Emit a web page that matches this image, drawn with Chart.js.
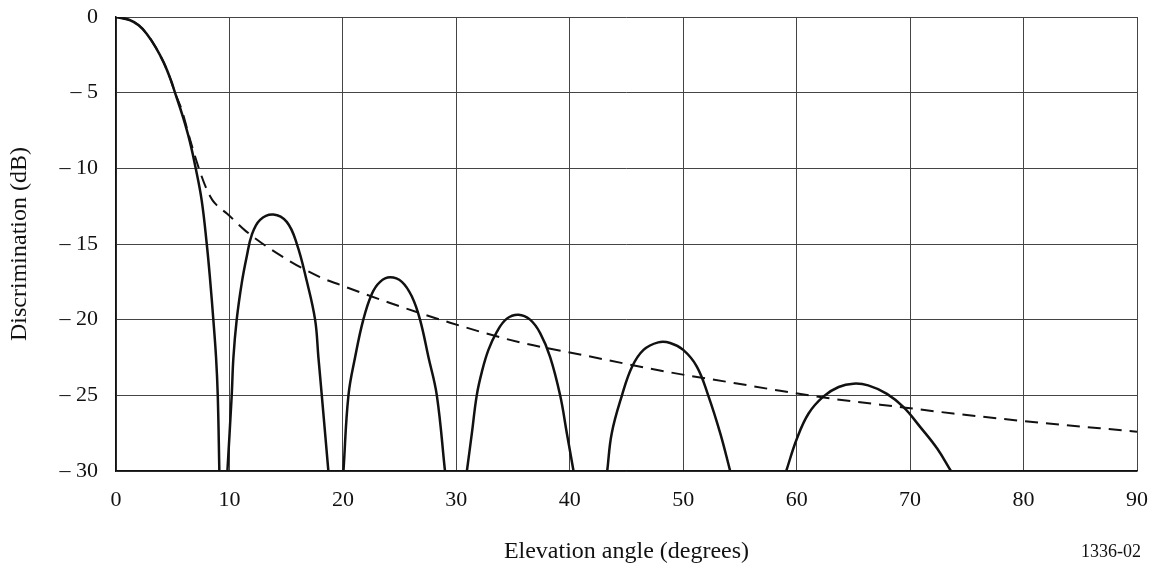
<!DOCTYPE html>
<html>
<head>
<meta charset="utf-8">
<script src="https://cdn.jsdelivr.net/npm/chart.js@4.4.1/dist/chart.umd.min.js"></script>
<style>
    html, body { margin: 0; padding: 0; background: #fff; }
    #wrap { width: 1156px; height: 568px; }
</style>
</head>
<body>
<div id="wrap"><canvas id="discChart"></canvas></div>
<script>
// Elevation angle (degrees) / discrimination (dB)
const mainLobeAngle = [0, 1.2, 2.0, 2.7, 3.5, 4.2, 4.8, 5.2, 5.9, 6.5, 7.0, 7.55, 8.0, 8.3, 8.58, 8.82, 8.97, 9.11];
const mainLobeDb    = [0, -0.2, -0.55, -1.1, -2.0, -3.0, -4.1, -5.0, -6.6, -8.2, -9.9, -12.1, -15, -17.4, -20, -22.5, -25, -30];

const lobe1Angle = [9.82, 10.2, 10.35, 10.64, 11.08, 11.52, 11.97, 12.7, 13.87, 15.05, 15.93, 16.8, 17.55, 17.84, 18.14, 18.72];
const lobe1Db    = [-30, -25, -22.5, -20, -17.6, -15.85, -14.4, -13.4, -13.05, -13.54, -14.97, -17.4, -20, -22.47, -25, -30];

const lobe2Angle = [20.05, 20.49, 21.08, 21.8, 22.55, 23.28, 24.16, 25.2, 26.1, 26.8, 27.54, 28.28, 29.0];
const lobe2Db    = [-30, -25, -22.47, -20.0, -18.3, -17.5, -17.2, -17.5, -18.5, -20.0, -22.47, -25, -30];

const lobe3Angle = [30.93, 31.37, 31.8, 32.25, 32.83, 33.57, 34.45, 35.48, 36.5, 37.4, 38.27, 39.15, 39.74, 40.33];
const lobe3Db    = [-30, -27.5, -25, -23.45, -22.0, -20.8, -19.93, -19.67, -20.0, -20.9, -22.47, -25, -27.5, -30];

const lobe4Angle = [43.3, 43.7, 44.6, 45.5, 46.5, 47.8, 48.85, 50.0, 51.2, 52.2, 53.26, 54.14];
const lobe4Db    = [-30, -27.5, -25, -23.1, -22.0, -21.5, -21.54, -22.0, -23.1, -25, -27.5, -30];

const lobe5Angle = [59.08, 60.0, 61.05, 62.37, 63.7, 65.0, 66.3, 67.96, 69.4, 70.9, 72.37, 73.6];
const lobe5Db    = [-30, -27.9, -26.2, -25.07, -24.45, -24.23, -24.34, -24.9, -25.77, -27.1, -28.5, -30];

const envelopeAngle = [0, 1.2, 2.0, 2.7, 3.5, 4.2, 4.8, 5.2, 5.8, 6.53, 7.26, 8.0, 8.5, 8.9, 9.8, 11.37, 14.46, 18.0, 19.75, 24.16, 29.45, 35.6, 40.9, 48.6, 54.6, 58.55, 62.4, 69.4, 73.8, 80, 90];
const envelopeDb    = [0, -0.2, -0.55, -1.1, -2.0, -3.0, -4.1, -5.0, -6.15, -8.1, -9.9, -11.4, -12.1, -12.45, -13.0, -14.1, -15.74, -17.2, -17.7, -18.9, -20.2, -21.5, -22.3, -23.45, -24.2, -24.7, -25.15, -25.8, -26.2, -26.7, -27.4];

const serif = "'Liberation Serif', 'Times New Roman', serif";

function toPoints(xs, ys) {
    return xs.map((x, i) => ({ x: x, y: ys[i] }));
}

function solid(xs, ys) {
    return {
        data: toPoints(xs, ys),
        borderColor: '#111',
        borderWidth: 2.5,
        pointRadius: 0,
        tension: 0.4,
        fill: false
    };
}

// figure number at bottom right
const figureNote = {
    id: 'figureNote',
    afterDraw(chart) {
        const ctx = chart.ctx;
        ctx.save();
        ctx.font = '18px ' + serif;
        ctx.fillStyle = '#111';
        ctx.textAlign = 'right';
        ctx.textBaseline = 'alphabetic';
        ctx.fillText('1336-02', 1141, 557);
        ctx.restore();
    }
};

document.addEventListener('DOMContentLoaded', function() {
    const ctx = document.getElementById('discChart').getContext('2d');

    const envelope = {
        data: toPoints(envelopeAngle, envelopeDb),
        borderColor: '#111',
        borderWidth: 2,
        borderDash: [13, 8],
        pointRadius: 0,
        cubicInterpolationMode: 'monotone',
        fill: false
    };

    new Chart(ctx, {
        type: 'line',
        data: {
            datasets: [
                envelope,
                solid(mainLobeAngle, mainLobeDb),
                solid(lobe1Angle, lobe1Db),
                solid(lobe2Angle, lobe2Db),
                solid(lobe3Angle, lobe3Db),
                solid(lobe4Angle, lobe4Db),
                solid(lobe5Angle, lobe5Db)
            ]
        },
        options: {
            responsive: true,
            maintainAspectRatio: false,
            animation: false,
            layout: {
                padding: { top: 17, right: 19, left: 0, bottom: 0 }
            },
            plugins: {
                legend: { display: false },
                tooltip: { enabled: false }
            },
            scales: {
                x: {
                    type: 'linear',
                    min: 0,
                    max: 90,
                    afterFit: function(scale) {
                        scale.height = 97;
                        scale.paddingLeft = 0;
                        scale.paddingRight = 0;
                    },
                    ticks: {
                        stepSize: 10,
                        padding: 16,
                        color: '#111',
                        font: { family: serif, size: 22 }
                    },
                    grid: { color: '#444', lineWidth: 1, drawTicks: false },
                    border: { color: '#111', width: 1.5 },
                    title: {
                        display: true,
                        text: 'Elevation angle (degrees)',
                        color: '#111',
                        font: { family: serif, size: 24 },
                        padding: { top: 0, bottom: 2 }
                    }
                },
                y: {
                    min: -30,
                    max: 0,
                    afterFit: function(scale) {
                        scale.width = 116;
                        scale.paddingTop = 0;
                        scale.paddingBottom = 0;
                    },
                    ticks: {
                        stepSize: 5,
                        padding: 18,
                        color: '#111',
                        font: { family: serif, size: 22 },
                        callback: function(value) {
                            return value === 0 ? '0' : '\u2013 ' + Math.abs(value);
                        }
                    },
                    grid: { color: '#444', lineWidth: 1, drawTicks: false },
                    border: { color: '#111', width: 1.5 },
                    title: {
                        display: true,
                        text: 'Discrimination (dB)',
                        color: '#111',
                        font: { family: serif, size: 24 },
                        padding: { top: 5, bottom: 0 }
                    }
                }
            }
        },
        plugins: [figureNote]
    });
});
</script>
</body>
</html>
